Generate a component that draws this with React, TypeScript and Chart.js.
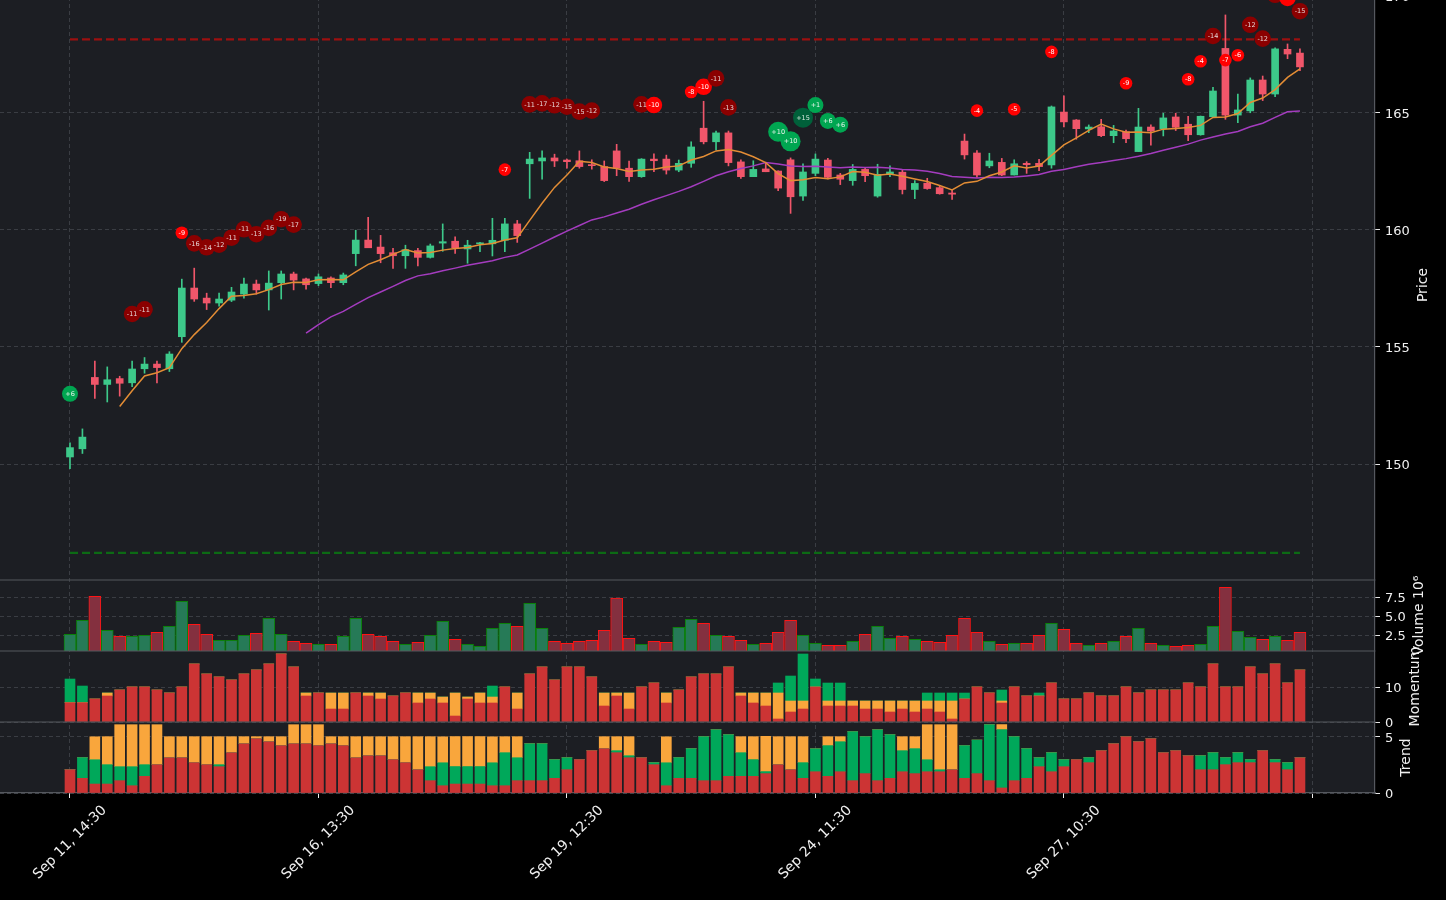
import React, { useEffect, useRef } from "react";
import { Chart, registerables } from "chart.js";

Chart.register(...registerables);

// ---------- DATA ----------
const opens = [150.3,150.65,153.7,153.4,153.65,153.47,154.07,154.27,154.07,155.44,
157.52,157.09,156.88,157.0,157.26,157.69,157.44,157.75,158.12,157.91,
157.71,157.95,157.75,158.99,159.57,159.27,159.03,158.9,159.12,158.83,
159.44,159.52,159.19,159.41,159.41,159.56,160.26,162.83,162.95,163.08,
162.99,162.96,162.78,162.71,163.38,162.64,162.28,163.03,163.03,162.56,
162.85,164.35,163.77,164.15,162.91,162.28,162.61,162.52,163.0,161.45,
162.42,162.99,162.35,162.11,162.59,161.45,162.39,162.47,161.73,162.0,
161.81,161.58,163.8,163.29,162.74,162.89,162.35,162.85,162.85,162.78,
165.04,164.7,164.32,164.41,164.03,164.2,163.35,164.4,164.33,164.83,
164.52,164.07,164.84,167.76,164.91,165.09,166.41,165.81,167.72,167.56];

const highs = [150.9,151.5,154.4,154.15,153.75,154.4,154.55,154.4,154.8,157.9,
158.37,157.3,157.3,157.55,157.95,157.86,158.25,158.25,158.2,157.95,
158.12,158.0,158.16,159.99,160.54,159.77,159.22,159.35,159.22,159.4,
160.26,159.71,159.56,159.47,160.5,160.5,160.41,163.32,163.38,163.24,
163.03,163.38,163.0,162.95,163.66,162.95,163.05,163.25,163.2,162.99,
163.77,165.5,164.23,164.23,163.0,162.96,162.88,162.53,163.08,162.83,
163.25,163.06,162.42,162.8,162.68,162.81,162.74,162.56,162.11,162.21,
161.88,161.7,164.1,163.39,163.28,163.06,163.0,162.92,163.02,165.3,
165.73,164.72,164.49,164.73,164.47,164.27,165.2,164.49,164.99,164.99,
164.86,164.87,166.1,169.19,165.81,166.5,166.58,167.79,167.95,167.74];

const lows = [149.8,150.45,152.8,152.65,152.9,153.3,153.88,153.47,153.95,155.2,
156.95,156.6,156.75,156.94,157.09,157.26,156.58,157.05,157.44,157.47,
157.62,157.54,157.66,158.47,159.24,158.6,158.36,158.36,158.47,158.8,
159.09,159.0,158.58,159.07,158.89,159.07,159.47,161.35,162.17,162.71,
162.64,162.64,162.6,162.07,162.32,162.08,162.25,162.49,162.39,162.49,
162.68,163.68,163.42,162.74,162.2,162.28,162.49,161.68,160.71,161.26,
162.32,162.18,161.94,161.91,162.06,161.4,162.28,161.54,161.34,161.74,
161.53,161.31,163.03,162.25,162.66,162.32,162.35,162.42,162.53,162.64,
164.41,163.88,164.16,163.99,163.73,163.73,163.35,163.62,164.02,164.25,
163.82,164.05,164.82,164.73,164.59,165.01,165.53,165.7,167.32,166.81];

const closes = [150.7,151.15,153.4,153.6,153.45,154.06,154.27,154.12,154.7,157.52,
157.05,156.88,157.05,157.35,157.69,157.44,157.73,158.12,157.86,157.66,
158.0,157.75,158.08,159.57,159.24,158.99,158.9,159.16,158.83,159.32,
159.5,159.24,159.35,159.44,159.56,160.26,159.76,163.03,163.08,162.95,
162.92,162.71,162.75,162.11,162.64,162.28,163.03,162.96,162.56,162.85,
163.55,163.77,164.15,162.88,162.28,162.59,162.49,161.79,161.42,162.48,
163.03,162.25,162.17,162.59,162.32,162.38,162.48,161.73,161.99,161.77,
161.55,161.53,163.21,162.35,162.95,162.35,162.83,162.79,162.71,165.26,
164.62,164.33,164.4,164.03,164.23,163.9,164.4,164.23,164.79,164.39,
164.07,164.86,165.94,164.91,165.13,166.41,165.81,167.74,167.52,166.97];

const volumes = [2.68,4.52,7.68,3.21,2.42,2.42,2.55,2.95,3.74,7.03,
4.0,2.68,1.89,1.89,2.55,2.82,4.79,2.68,1.76,1.5,
1.37,1.37,2.42,4.79,2.68,2.42,1.76,1.37,1.63,2.55,
4.39,2.03,1.37,1.1,3.47,4.13,3.74,6.76,3.47,1.76,
1.5,1.76,1.89,3.21,7.46,2.16,1.37,1.76,1.63,3.6,
4.66,4.13,2.55,2.42,1.89,1.37,1.5,2.95,4.52,2.55,
1.5,1.24,1.24,1.76,2.68,3.74,2.16,2.42,2.03,1.76,
1.63,2.55,4.79,2.95,1.76,1.37,1.5,1.5,2.55,4.13,
3.34,1.5,1.24,1.5,1.76,2.42,3.47,1.5,1.24,1.1,
1.24,1.37,3.74,8.87,3.08,2.29,2.03,2.42,1.89,2.95];

const sma5 = [null,null,null,null,152.46,153.13,153.76,153.9,154.12,154.93,
155.53,156.05,156.64,157.17,157.2,157.28,157.45,157.67,157.77,157.76,
157.87,157.88,157.87,158.21,158.53,158.73,158.96,159.17,159.02,159.04,
159.14,159.21,159.25,159.37,159.42,159.57,159.67,160.41,161.14,161.82,
162.35,162.94,162.88,162.69,162.63,162.5,162.56,162.6,162.69,162.74,
162.99,163.14,163.38,163.44,163.33,163.13,162.88,162.41,162.11,162.15,
162.24,162.19,162.27,162.5,162.47,162.34,162.39,162.3,162.18,162.07,
161.9,161.71,162.01,162.08,162.32,162.48,162.74,162.65,162.73,163.19,
163.64,163.94,164.26,164.53,164.32,164.18,164.19,164.16,164.31,164.34,
164.38,164.47,164.81,164.83,164.98,165.45,165.64,166.0,166.52,166.89];

const sma20 = [null,null,null,null,null,null,null,null,null,null,
null,null,null,null,null,null,null,null,null,155.59,
155.96,156.29,156.52,156.82,157.11,157.35,157.59,157.84,158.04,158.13,
158.26,158.37,158.49,158.59,158.69,158.83,158.93,159.18,159.44,159.7,
159.95,160.19,160.43,160.56,160.73,160.89,161.1,161.29,161.47,161.65,
161.85,162.08,162.32,162.49,162.63,162.74,162.88,162.82,162.73,162.71,
162.72,162.69,162.66,162.69,162.67,162.68,162.65,162.59,162.56,162.51,
162.41,162.29,162.25,162.22,162.25,162.24,162.26,162.31,162.37,162.51,
162.59,162.7,162.81,162.88,162.97,163.05,163.15,163.27,163.41,163.54,
163.67,163.84,163.97,164.1,164.21,164.41,164.56,164.81,165.05,165.08];

const momRed = [5.52,5.52,6.57,7.43,9.14,10,10,9.14,8.29,10,
16.57,13.71,12.86,12,13.71,14.86,16.57,19.43,15.71,7.43,
8.29,3.71,3.71,8.29,7.43,6.57,7.43,8.29,5.43,6.57,
5.43,1.71,6.57,5.43,5.43,10,3.71,13.71,15.71,12,
15.71,15.71,12.86,4.57,7.43,3.71,10,11.14,5.43,9.14,
12.86,13.71,13.71,15.71,7.43,5.43,4.57,0.86,2.86,3.71,
10,4.57,4.57,4.57,3.71,3.71,2.86,3.71,2.86,3.71,
2.86,0.86,6.57,10,8.29,5.43,10,7.43,7.43,11.14,
6.57,6.57,8.29,7.43,7.43,10,8.29,9.14,9.14,9.14,
11.14,10,16.57,10,10,15.71,13.71,16.57,11.14,14.86];

const momOrange = [0,0,0,0.86,0,0,0,0,0,0,
0,0,0,0,0,0,0,0,0,0.86,
0,4.57,4.57,0,0.86,1.71,0,0,2.86,1.71,
1.71,6.57,0.57,2.86,1.71,0,4.57,0,0,0,
0,0,0,3.71,0.86,4.57,0,0,2.86,0,
0,0,0,0,0.86,2.86,3.71,7.43,3.14,2.29,
0,1.43,1.43,1.43,2.29,2.29,3.14,2.29,3.14,2.29,
3.14,5.14,0,0,0,0.57,0,0,0,0,
0,0,0,0,0,0,0,0,0,0,
0,0,0,0,0,0,0,0,0,0];

const momGreen = [6.76,4.76,0,0,0,0,0,0,0,0,
0,0,0,0,0,0,0,0,0,0,
0,0,0,0,0,0,0,0,0,0,
0,0,0,0,3.14,0,0,0,0,0,
0,0,0,0,0,0,0,0,0,0,
0,0,0,0,0,0,0,2.86,7.14,13.43,
2.29,5.14,5.14,0,0,0,0,0,0,2.29,
2.29,2.29,1.71,0,0,3.14,0,0,0.86,0,
0,0,0,0,0,0,0,0,0,0,
0,0,0,0,0,0,0,0,0,0];

const trendRed = [2.08,1.31,0.8,0.8,1.1,0.65,1.49,2.53,3.15,3.15,
2.71,2.53,2.35,3.6,4.4,4.85,4.58,4.23,4.4,4.4,
4.23,4.4,4.23,3.15,3.33,3.33,2.98,2.71,2.08,1.1,
0.65,0.8,0.8,0.8,0.65,0.65,1.1,1.1,1.1,1.31,
2.08,2.98,3.78,3.96,3.6,3.15,3.15,2.53,0.65,1.31,
1.31,1.1,1.1,1.49,1.49,1.49,1.73,2.53,2.08,1.31,
1.9,1.49,1.9,1.1,1.73,1.1,1.31,1.9,1.73,1.9,
1.9,2.08,1.31,1.73,1.1,0.45,1.1,1.31,2.35,1.9,
2.35,2.98,2.71,3.78,4.4,5.03,4.58,4.85,3.6,3.78,
3.33,2.08,2.08,2.53,2.71,2.71,3.78,2.71,2.08,3.15];

const trendGreen = [0,1.85,2.17,1.73,1.25,1.7,1.04,0,0,0,
0,0,0.18,0,0,0,0,0,0,0,
0,0,0,0,0,0,0,0,0,1.25,
2.05,1.56,1.56,1.56,2.05,2.95,2.05,3.3,3.3,1.67,
1.07,0,0,0,0.18,0.18,0,0.18,2.05,1.85,
2.65,3.93,4.55,3.72,2.11,1.49,0.18,0,0,1.4,
2.05,2.74,2.68,4.38,3.3,4.55,3.9,1.88,2.23,1.07,
0.18,0,2.92,3.0,5.0,5.21,3.93,2.65,0.8,1.7,
0.63,0,0.45,0,0,0,0,0,0,0,
0,1.25,1.52,0.63,0.89,0.27,0,0.27,0.63,0];

const trendOrange = [0,0,2.05,2.5,3.75,3.75,3.57,3.57,1.88,1.88,
2.32,2.5,2.5,1.43,0.63,0.18,0.45,0.8,1.7,1.7,
1.87,0.63,0.8,1.88,1.7,1.7,2.05,2.32,2.95,2.68,
2.32,2.68,2.68,2.68,2.32,1.43,1.88,0,0,0,
0,0,0,1.07,1.25,1.7,0,0,2.32,0,
0,0,0,0,1.43,2.05,3.15,2.5,2.95,2.32,
0,0.8,0.45,0,0,0,0,1.25,1.07,3.13,
4.02,4.02,0,0,0,0.45,0,0,0,0,
0,0,0,0,0,0,0,0,0,0,
0,0,0,0,0,0,0,0,0,0];

const markerIdx = [0,5,6,9,10,11,12,13,14,15,16,17,18,35,37,38,39,40,41,42,46,47,50,51,52,53,57,58,59,60,61,62,73,76,79,85,90,91,92,93,94,95,96,97,98,99];
const markerPrice = [153.0,156.41,156.61,159.88,159.43,159.26,159.37,159.67,160.03,159.82,160.09,160.46,160.23,162.58,165.37,165.41,165.33,165.27,165.06,165.1,165.37,165.34,165.9,166.12,166.48,165.24,164.2,163.79,164.8,165.34,164.66,164.5,165.1,165.16,167.61,166.27,166.44,167.21,168.29,167.26,167.47,168.77,168.18,170.05,169.92,169.35];
const markerLabel = ["+6","-11","-11","-9","-16","-14","-12","-11","-11","-13","-16","-19","-17","-7","-11","-17","-12","-15","-15","-12","-11","-10","-8","-10","-11","-13","+10","+10","+15","+1","+6","+6","-4","-5","-8","-9","-8","-4","-14","-7","-6","-12","-12","-13","-10","-15"];
const markerKind = ["g","d","d","r","d","d","d","d","d","d","d","d","d","r","d","d","d","d","d","d","d","R","r","R","d","d","G","G","D","g","g","g","r","r","r","r","r","r","d","r","r","d","d","d","R","d"];

const resistanceLevel = 168.15;
const supportLevel = 146.2;
const levelSpan = [0, 99];

const xTickValues = [0, 20, 40, 60, 80, 100];
const xTickLabels = ["Sep 11, 14:30", "Sep 16, 13:30", "Sep 19, 12:30", "Sep 24, 11:30", "Sep 27, 10:30", ""];
const priceTicks = [150, 155, 160, 165, 170];
const priceTickLabels = ["150", "155", "160", "165", "170"];
const volumeTicks = [2.5, 5.0, 7.5];
const volumeTickLabels = ["2.5", "5.0", "7.5"];
const momentumTicks = [0, 10];
const momentumTickLabels = ["0", "10"];
const trendTicks = [0, 5];
const trendTickLabels = ["0", "5"];

// ---------- STYLE ----------
const KIND_STYLE: Record<string, { r: number; fill: string; text: string }> = {
  r: { r: 6.3, fill: "#ff0000", text: "#ffffff" },
  R: { r: 8.3, fill: "#ff0000", text: "#ffffff" },
  d: { r: 8.3, fill: "#8b0000", text: "#e6d6d6" },
  g: { r: 8, fill: "#00a651", text: "#eaf6ef" },
  G: { r: 10, fill: "#00a651", text: "#eaf6ef" },
  D: { r: 10, fill: "#00603a", text: "#d9ebe0" },
};

const FONT = "DejaVu Sans";
const GRID = "#3a3d43";
const SPINE = "#55585e";
const TXT = "#f0f0f0";
const CANDLE_UP = "#3dc98a";
const CANDLE_DN = "#f0566a";
const BAR_RED = "#cc3434";
const BAR_ORANGE = "#f9a63c";
const BAR_GREEN = "#00a85a";

const X_MIN = -5.634;
const X_MAX = 105.04;
const P_MIN = 145.043;
const P_MAX = 170.256;
const V_MIN = 0.487;
const V_MAX = 9.829;
const M_MAX = 20.286;
const T_MAX = 6.339;

const AXES: [string, number[], string[], string][] = [
  ["y", priceTicks, priceTickLabels, "Price"],
  ["yv", volumeTicks, volumeTickLabels, "Volume 10\u2076"],
  ["ym", momentumTicks, momentumTickLabels, "Momentum"],
  ["yt", trendTicks, trendTickLabels, "Trend"],
];

const yAxis = (ticksArr: number[], weight: number, min: number, max: number, stacked: boolean) => ({
  type: "linear",
  position: "right",
  stack: "panels",
  stackWeight: weight,
  min,
  max,
  stacked,
  beginAtZero: false,
  grid: { color: GRID, lineWidth: 1, tickColor: "#e8e8e8", tickLength: 5, tickWidth: 1, drawOnChartArea: true },
  border: { display: true, color: SPINE, width: 1.2, dash: [4, 3] },
  ticks: { display: false, autoSkip: false },
  afterBuildTicks: (s: any) => {
    s.ticks = ticksArr.map((v) => ({ value: v }));
  },
  afterFit: (s: any) => {
    s.width = 71;
    s.paddingTop = 0;
    s.paddingBottom = 0;
  },
});

const overlayPlugin = {
  id: "overlay",
  beforeDraw(chart: any) {
    const { ctx, chartArea: a } = chart;
    ctx.save();
    ctx.fillStyle = "#000000";
    ctx.fillRect(0, 0, chart.width, chart.height);
    ctx.fillStyle = "#1c1e23";
    ctx.fillRect(a.left, a.top, a.right - a.left, a.bottom - a.top);
    ctx.restore();
  },
  afterDatasetsDraw(chart: any) {
    const { ctx, chartArea: a, scales } = chart;
    ctx.save();
    ctx.strokeStyle = SPINE;
    ctx.lineWidth = 1.2;
    ["yv", "ym", "yt"].forEach((id) => {
      const y = scales[id].top;
      ctx.beginPath();
      ctx.moveTo(a.left, y);
      ctx.lineTo(a.right, y);
      ctx.stroke();
    });
    const meta = chart.getDatasetMeta(0);
    ctx.beginPath();
    ctx.rect(a.left, a.top, a.right - a.left, a.bottom - a.top);
    ctx.clip();
    ctx.font = `6.5px "${FONT}"`;
    ctx.textAlign = "center";
    ctx.textBaseline = "middle";
    meta.data.forEach((pt: any, i: number) => {
      ctx.fillStyle = KIND_STYLE[markerKind[i]].text;
      ctx.fillText(markerLabel[i], pt.x, pt.y + 0.5);
    });
    ctx.restore();
  },
  afterDraw(chart: any) {
    const { ctx, chartArea: a, scales } = chart;
    ctx.save();
    // x tick labels: rotated 45 degrees, centred on the tick
    const fs = 13.9;
    ctx.font = `${fs}px "${FONT}"`;
    ctx.fillStyle = TXT;
    ctx.textAlign = "center";
    ctx.textBaseline = "middle";
    xTickValues.forEach((v, i) => {
      const label = xTickLabels[i];
      if (!label) return;
      const px = scales.x.getPixelForValue(v);
      const w = ctx.measureText(label).width;
      const h = fs * 1.17;
      const half = (w + h) / (2 * Math.SQRT2);
      const top = a.bottom + 5 + 4.5;
      ctx.save();
      ctx.translate(px, top + half);
      ctx.rotate(-Math.PI / 4);
      ctx.fillText(label, 0, 0);
      ctx.restore();
    });
    // y tick labels (digit centre on tick) and axis titles
    AXES.forEach(([id, vals, labels, title]) => {
      const s = scales[id];
      ctx.font = `13px "${FONT}"`;
      ctx.fillStyle = TXT;
      ctx.textAlign = "left";
      ctx.textBaseline = "alphabetic";
      let maxW = 0;
      vals.forEach((v, i) => {
        const y = s.getPixelForValue(v);
        ctx.fillText(labels[i], a.right + 10, y + 4.7);
        maxW = Math.max(maxW, ctx.measureText(labels[i]).width);
      });
      const x = a.right + 10 + maxW + 5.5 + 8;
      const yc = (s.top + s.bottom) / 2;
      ctx.font = `14px "${FONT}"`;
      ctx.save();
      ctx.translate(x, yc);
      ctx.rotate(-Math.PI / 2);
      ctx.textAlign = "center";
      ctx.textBaseline = "middle";
      ctx.fillText(title, 0, 0);
      ctx.restore();
    });
    ctx.restore();
  },
};

export default function App() {
  const ref = useRef<HTMLCanvasElement | null>(null);

  useEffect(() => {
    const canvas = ref.current;
    if (!canvas) return;
    const up = closes.map((c, i) => c >= opens[i]);
    const candleColor = up.map((u) => (u ? CANDLE_UP : CANDLE_DN));
    const barBase = { type: "bar", grouped: false, borderWidth: 0, order: 5, xAxisID: "x" };

    const datasets: any[] = [
      {
        type: "line",
        label: "signals",
        data: markerIdx.map((x, i) => ({ x, y: markerPrice[i] })),
        showLine: false,
        pointRadius: markerKind.map((k) => KIND_STYLE[k].r),
        pointHoverRadius: markerKind.map((k) => KIND_STYLE[k].r),
        pointBackgroundColor: markerKind.map((k) => KIND_STYLE[k].fill),
        pointBorderWidth: 0,
        pointBorderColor: "rgba(0,0,0,0)",
        order: 0,
        yAxisID: "y",
      },
      {
        type: "line",
        label: "SMA5",
        data: sma5.map((v, i) => ({ x: i, y: v })),
        borderColor: "#e38d35",
        borderWidth: 1.5,
        pointRadius: 0,
        tension: 0,
        order: 1,
        yAxisID: "y",
      },
      {
        type: "line",
        label: "SMA20",
        data: sma20.map((v, i) => ({ x: i, y: v })),
        borderColor: "#a43cbf",
        borderWidth: 1.5,
        pointRadius: 0,
        tension: 0,
        order: 1,
        yAxisID: "y",
      },
      {
        type: "bar",
        label: "body",
        data: closes.map((c, i) => ({ x: i, y: [opens[i], c] })),
        backgroundColor: candleColor,
        barThickness: 7,
        minBarLength: 1,
        grouped: false,
        borderWidth: 0,
        order: 2,
        yAxisID: "y",
      },
      {
        type: "bar",
        label: "wick",
        data: closes.map((_, i) => ({ x: i, y: [lows[i], highs[i]] })),
        backgroundColor: candleColor,
        barThickness: 1,
        grouped: false,
        borderWidth: 0,
        order: 3,
        yAxisID: "y",
      },
      {
        type: "line",
        label: "resistance",
        data: levelSpan.map((x) => ({ x, y: resistanceLevel })),
        borderColor: "#9b1010",
        borderWidth: 2.2,
        borderDash: [8, 4],
        pointRadius: 0,
        order: 4,
        yAxisID: "y",
      },
      {
        type: "line",
        label: "support",
        data: levelSpan.map((x) => ({ x, y: supportLevel })),
        borderColor: "#0c6a14",
        borderWidth: 2.2,
        borderDash: [8, 4],
        pointRadius: 0,
        order: 4,
        yAxisID: "y",
      },
      {
        ...barBase,
        label: "volume",
        data: volumes.map((v, i) => ({ x: i, y: v })),
        backgroundColor: up.map((u) => (u ? "#267a57" : "#84303f")),
        borderColor: up.map((u) => (u ? "#0b800b" : "#ff1414")),
        borderWidth: 1,
        barThickness: 12,
        base: V_MIN,
        yAxisID: "yv",
      },
      { ...barBase, label: "momRed", stack: "mom", data: momRed.map((v, i) => ({ x: i, y: v })), backgroundColor: BAR_RED, barThickness: 10, yAxisID: "ym" },
      { ...barBase, label: "momOrange", stack: "mom", data: momOrange.map((v, i) => ({ x: i, y: v })), backgroundColor: BAR_ORANGE, barThickness: 10, yAxisID: "ym" },
      { ...barBase, label: "momGreen", stack: "mom", data: momGreen.map((v, i) => ({ x: i, y: v })), backgroundColor: BAR_GREEN, barThickness: 10, yAxisID: "ym" },
      { ...barBase, label: "trRed", stack: "tr", data: trendRed.map((v, i) => ({ x: i, y: v })), backgroundColor: BAR_RED, barThickness: 10, yAxisID: "yt" },
      { ...barBase, label: "trGreen", stack: "tr", data: trendGreen.map((v, i) => ({ x: i, y: v })), backgroundColor: BAR_GREEN, barThickness: 10, yAxisID: "yt" },
      { ...barBase, label: "trOrange", stack: "tr", data: trendOrange.map((v, i) => ({ x: i, y: v })), backgroundColor: BAR_ORANGE, barThickness: 10, yAxisID: "yt" },
    ];

    const chart = new Chart(canvas, {
      type: "line",
      data: { datasets },
      options: {
        responsive: false,
        maintainAspectRatio: false,
        devicePixelRatio: 1,
        animation: false,
        events: [],
        layout: { padding: 0, autoPadding: false },
        plugins: { legend: { display: false }, tooltip: { enabled: false }, title: { display: false } },
        scales: {
          x: {
            type: "linear",
            position: "bottom",
            min: X_MIN,
            max: X_MAX,
            offset: false,
            grid: { offset: false, color: GRID, lineWidth: 1, tickColor: "#f0f0f0", tickLength: 5, tickWidth: 1 },
            border: { display: true, color: SPINE, width: 1.2, dash: [4, 3] },
            ticks: { display: false, autoSkip: false },
            afterBuildTicks: (s: any) => {
              s.ticks = xTickValues.map((v) => ({ value: v }));
            },
            afterFit: (s: any) => {
              s.height = 107;
              s.paddingLeft = 0;
              s.paddingRight = 0;
            },
          },
          y: yAxis(priceTicks, 590, P_MIN, P_MAX, false),
          yv: yAxis(volumeTicks, 71, V_MIN, V_MAX, false),
          ym: yAxis(momentumTicks, 71, 0, M_MAX, true),
          yt: yAxis(trendTicks, 71, 0, T_MAX, true),
        },
      } as any,
      plugins: [overlayPlugin],
    } as any);

    return () => chart.destroy();
  }, []);

  return (
    <div style={{ position: "absolute", left: 0, top: -10, width: 1446, height: 910, background: "#000" }}>
      <canvas ref={ref} width={1446} height={910} style={{ display: "block", width: 1446, height: 910 }} />
    </div>
  );
}
